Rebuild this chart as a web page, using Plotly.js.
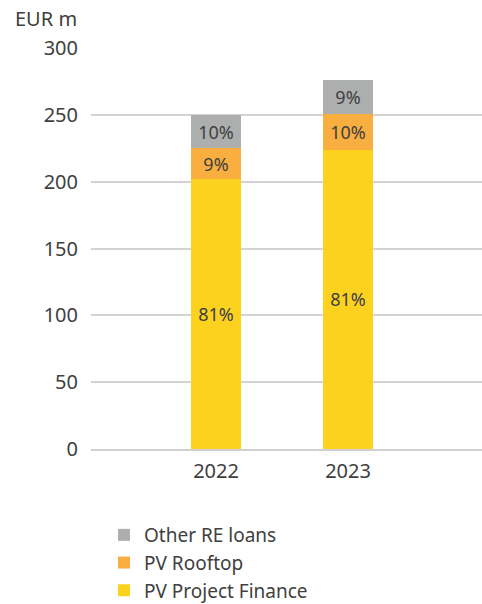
<!DOCTYPE html>
<html>
<head>
<meta charset="utf-8">
<script src="https://cdn.plot.ly/plotly-3.0.1.min.js"></script>
<style>html,body{margin:0;padding:0;background:#fff;}#chart{width:482px;height:604px;}</style>
</head>
<body>
<div id="chart"></div>
<script>
const years = ["2022", "2023"];
const pvProjectFinance = [202, 224];
const pvRooftop = [23, 27];
const otherRELoans = [25, 25];
const seriesNames = ["PV Project Finance", "PV Rooftop", "Other RE loans"];
const seriesColors = ["#FCD21F", "#F9AE40", "#ADAFAF"];
const yTicks = [0, 50, 100, 150, 200, 250, 300];

const totals = years.map((_, i) => pvProjectFinance[i] + pvRooftop[i] + otherRELoans[i]);
const pct = arr => arr.map((v, i) => Math.round(100 * v / totals[i]) + "%");

const font = "Noto Sans, Open Sans, sans-serif";
const txt = "#404040";

const data = [pvProjectFinance, pvRooftop, otherRELoans].map((vals, k) => ({
  type: "bar",
  x: years,
  y: vals,
  name: seriesNames[k],
  marker: {color: seriesColors[k], line: {width: 0}},
  width: 0.38,
  text: pct(vals),
  textposition: "inside",
  insidetextanchor: "middle",
  textangle: 0,
  constraintext: "none",
  textfont: {family: font, size: 18, color: txt},
  hoverinfo: "none"
}));

const layout = {
  width: 482, height: 604,
  margin: {l: 91, r: 0, t: 48, b: 155, autoexpand: false},
  barmode: "stack",
  paper_bgcolor: "#fff",
  plot_bgcolor: "#fff",
  font: {family: font, color: txt, size: 20},
  showlegend: true,
  legend: {
    traceorder: "reversed",
    xref: "container", yref: "container",
    x: 104 / 482, xanchor: "left",
    y: (604 - 516) / 604, yanchor: "top",
    font: {family: font, size: 19, color: txt},
    itemclick: false, itemdoubleclick: false,
    bgcolor: "rgba(0,0,0,0)"
  },
  xaxis: {
    type: "category",
    range: [-0.947, 2.015],
    showgrid: false,
    showline: true, linecolor: "#D0D0D0", linewidth: 2,
    ticks: "",
    ticklabelstandoff: 3,
    tickfont: {family: font, size: 20, color: txt},
    fixedrange: true
  },
  yaxis: {
    range: [0, 300],
    tickvals: yTicks,
    ticktext: yTicks.map(String),
    showgrid: true, gridcolor: "#D3D3D3", gridwidth: 2,
    zeroline: false,
    showline: false,
    ticks: "",
    ticklabelstandoff: 12,
    tickfont: {family: font, size: 20, color: txt},
    fixedrange: true
  },
  annotations: [{
    text: "EUR m",
    xref: "paper", yref: "paper",
    x: (13 - 91) / 391, y: 1 + (47.7 - 3) / 401,
    xanchor: "left", yanchor: "top",
    showarrow: false,
    font: {family: font, size: 20, color: txt}
  }]
};

Plotly.newPlot("chart", data, layout, {displayModeBar: false, staticPlot: true});
</script>
</body>
</html>
